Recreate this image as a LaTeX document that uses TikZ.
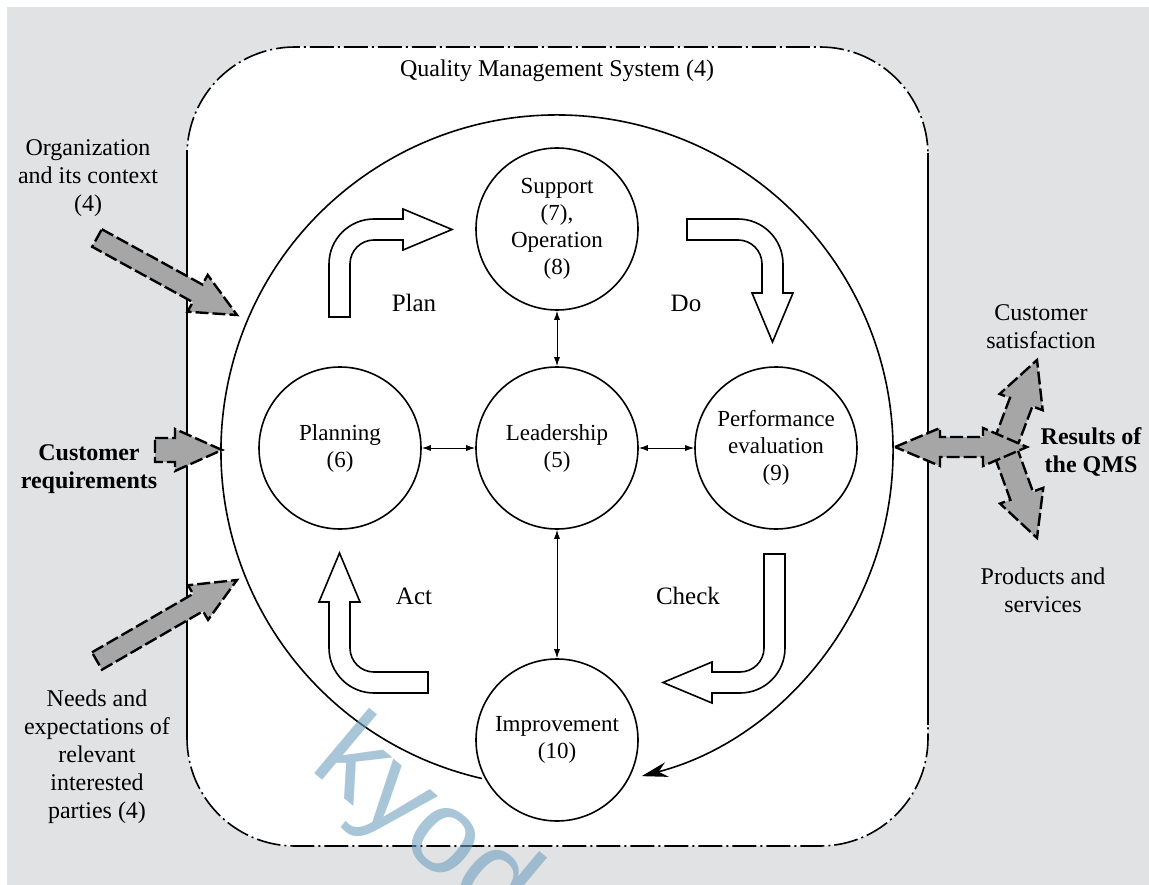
\documentclass[tikz,border=0pt]{standalone}
\usepackage{fontspec}
\setmainfont{Liberation Serif}
\newfontfamily\markfont{Liberation Sans}
\usetikzlibrary{arrows.meta,calc}

\definecolor{paper}{RGB}{225,226,228}
\definecolor{arrowgray}{RGB}{166,166,166}
\definecolor{markblue}{RGB}{113,160,193}

\tikzset{
  phase/.style={circle, draw, line width=1.6pt, fill=white, minimum size=162pt,
    inner sep=0pt, align=center, font=\fontsize{23}{27}\selectfont},
  tag/.style={font=\fontsize{25}{30}\selectfont},
  side/.style={align=center, font=\fontsize{24}{28}\selectfont},
  link/.style={{Latex[length=9pt,width=6pt]}-{Latex[length=9pt,width=6pt]}, line width=0.9pt},
  bent/.style={draw, fill=white, line width=1.6pt},
  flow/.style={draw, fill=arrowgray, line width=2.4pt, dash pattern=on 13pt off 4pt, line join=miter},
  qms/.style={line width=1.6pt, dash pattern=on 24pt off 4pt on 2pt off 4pt, rounded corners=108pt},
}

% gray block arrow: tail, tip, half shaft, half head, head length
\newcommand\inarrow[5]{%
  \coordinate (hb) at ($(#2)!#5!(#1)$);
  \draw[flow] ($(#1)!#3!90:(#2)$) -- ($(hb)!#3!90:(#2)$) -- ($(hb)!#4!90:(#2)$)
    -- (#2) -- ($(hb)!#4!-90:(#2)$) -- ($(hb)!#3!-90:(#2)$) -- ($(#1)!#3!-90:(#2)$) -- cycle;
}

% white bent arrow of the cycle: corner centre, rotation, tail length, head offset
\newcommand\turnarrow[4]{%
  \begin{scope}[shift={#1}, rotate=#2]
    \draw[bent] (-45,#3) -- (-45,0) arc[start angle=180, end angle=270, radius=45]
      -- (#4,-45) -- (#4,-55) -- ({#4+49},-34.5) -- (#4,-14) -- (#4,-24) -- (0,-24)
      arc[start angle=270, end angle=180, radius=24] -- (-24,#3) -- cycle;
  \end{scope}}

\begin{document}
\begin{tikzpicture}[x=1pt, y=-1pt]
\useasboundingbox (0,0) rectangle (1149,885);
\fill[white] (0,0) rectangle (1149,885);
\fill[paper] (7,7) rectangle (1149,885);

% the system boundary
\draw[qms, fill=white] (187,47) rectangle (928,846);
\draw[line width=1.6pt] (187,150) -- (187,735);
\draw[line width=1.6pt] (928,153) -- (928,725);
\node[font=\fontsize{24}{28}\selectfont] (title) at (557,71) {Quality Management System (4)};

% the cycle ring
\coordinate (hub) at (557,451);
\draw[line width=1.6pt, -{Stealth[length=26pt,width=15pt]}]
  (hub) ++(102.9:336) arc[start angle=102.9, end angle=435.4, radius=336];

% PDCA arrows
\turnarrow{(374,264)}{0}{53}{29}
\turnarrow{(738,264)}{-90}{51}{29}
\turnarrow{(740,648)}{180}{94}{28}
\turnarrow{(374,648)}{90}{54}{46}

\node[tag] (plan-l) at (414,303) {Plan};
\node[tag] (do-l) at (686,303) {Do};
\node[tag] (act-l) at (414,596) {Act};
\node[tag] (check-l) at (688,596) {Check};

% clauses
\node[phase] (sup) at (557,229) {Support\\(7),\\Operation\\(8)};
\node[phase] (lead) at (557,448) {Leadership\\(5)};
\node[phase] (plan) at (340,448) {Planning\\(6)};
\node[phase] (perf) at (776,448) {Performance\\evaluation\\(9)};
\node[phase] (impr) at (557,740) {Improvement\\(10)};

\draw[link] (sup) -- (lead);
\draw[link] (lead) -- (impr);
\draw[link] (plan) -- (lead);
\draw[link] (lead) -- (perf);

% inputs
\node[side] (org) at (88,178) {Organization\\and its context\\(4)};
\node[side, font=\bfseries\fontsize{24}{28}\selectfont] (cust) at (89,469) {Customer\\requirements};
\node[side] (needs) at (97,757) {Needs and\\expectations of\\relevant\\interested\\parties (4)};

\coordinate (org-t) at (97,238);
\coordinate (org-h) at (237,315);
\coordinate (cust-t) at (155,450);
\coordinate (cust-h) at (222,450);
\coordinate (needs-t) at (97,661);
\coordinate (needs-h) at (237,580);
\inarrow{org-t}{org-h}{10pt}{21pt}{45pt}
\inarrow{cust-t}{cust-h}{12pt}{21pt}{47pt}
\inarrow{needs-t}{needs-h}{10pt}{20pt}{45pt}

% outputs
\node[side] (sat) at (1041,327) {Customer\\satisfaction};
\node[side, font=\bfseries\fontsize{24}{28}\selectfont] (res) at (1091,452) {Results of\\the QMS};
\node[side] (prod) at (1043,590) {Products and\\services};

\coordinate (up-t) at (1005,445);
\coordinate (up-h) at (1037,360);
\coordinate (dn-t) at (1005,450);
\coordinate (dn-h) at (1037,538);
\inarrow{up-t}{up-h}{12pt}{23pt}{45pt}
\inarrow{dn-t}{dn-h}{12pt}{23pt}{45pt}
\draw[flow] (895,447) -- (940,428) -- (940,437) -- (983,437) -- (983,428) -- (1027,447)
  -- (983,466) -- (983,457) -- (940,457) -- (940,466) -- cycle;

% watermark
\begin{scope}
  \clip (0,0) rectangle (1149,885);
  \node[anchor=base west, rotate=-40, inner sep=0pt, text=markblue, opacity=0.6,
    font=\markfont\fontsize{118}{118}\selectfont] (mark) at (308,768) {kyod};
\end{scope}
\end{tikzpicture}
\end{document}
